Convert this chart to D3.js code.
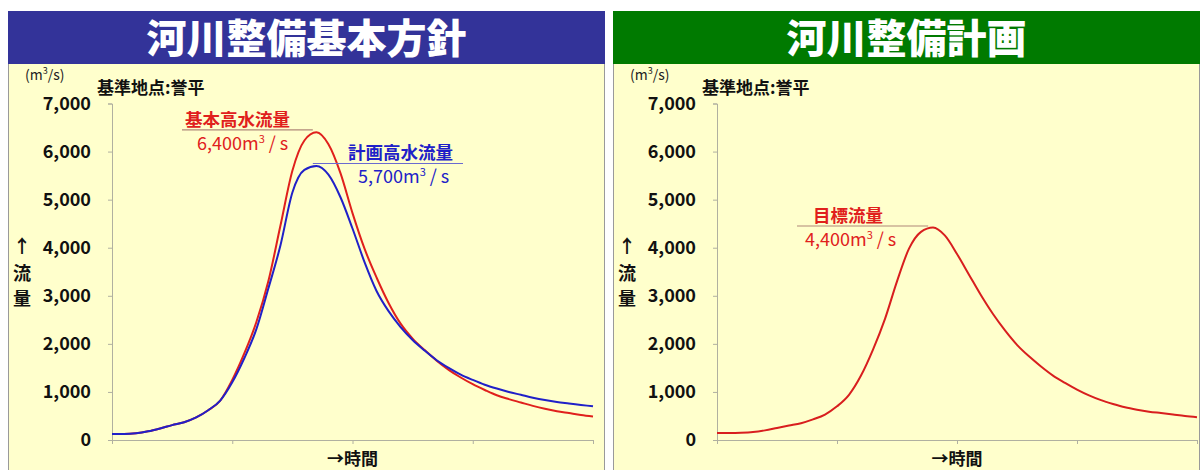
<!DOCTYPE html>
<html>
<head>
<meta charset="utf-8">
<script src="https://cdn.jsdelivr.net/npm/d3@7"></script>
<style>
  body { margin: 0; background: #fff; }
  svg text { font-family: "Noto Sans CJK JP", "Noto Sans", sans-serif; }
</style>
</head>
<body>
<svg id="svg0" width="1200" height="470"></svg>
<script>
// hydrograph values (m3/s) at 41 equal time steps
var steps = d3.range(0, 41);

var kihonFlow = [125, 125, 140, 180, 240, 310, 370, 470, 620, 820,
    1250, 1800, 2450, 3300, 4450, 5600, 6230, 6400, 6150, 5550,
    4720, 3980, 3380, 2850, 2420, 2110, 1870, 1650, 1460, 1300,
    1160, 1040, 930, 850, 780, 710, 650, 600, 560, 520, 490];

var keikakuFlow = [125, 125, 140, 180, 240, 310, 370, 470, 620, 820,
    1200, 1700, 2300, 3150, 4040, 5150, 5620, 5700, 5520, 5050,
    4400, 3700, 3100, 2680, 2350, 2080, 1860, 1660, 1500, 1360,
    1250, 1150, 1070, 1000, 940, 880, 830, 790, 760, 730, 700];

var mokuhyoFlow = [145, 145, 150, 165, 200, 250, 300, 350, 430, 530,
    700, 940, 1340, 1880, 2520, 3300, 3980, 4330, 4420, 4250,
    3870, 3440, 3010, 2620, 2280, 1980, 1740, 1530, 1340, 1190,
    1050, 930, 830, 750, 680, 630, 590, 560, 530, 500, 475];

var yTicks = [0, 1000, 2000, 3000, 4000, 5000, 6000, 7000];
var xTicks = [0, 10, 20, 30, 40];

var svg0 = d3.select('#svg0');

function drawPanel(opt) {
    var g = svg0.append('g')
        .attr('transform', 'translate(' + opt.left + ',0)');

    // panel background + header
    g.append('rect')
        .attr('x', 0.5).attr('y', 11.5)
        .attr('width', opt.width - 1).attr('height', 470)
        .attr('fill', '#ffffcc')
        .attr('stroke', '#9a9a9a');
    g.append('rect')
        .attr('x', 0).attr('y', 11)
        .attr('width', opt.width).attr('height', 53)
        .attr('fill', opt.headColor);
    g.append('text')
        .attr('x', opt.width / 2).attr('y', 53)
        .attr('text-anchor', 'middle')
        .attr('fill', '#fff')
        .attr('font-size', 40)
        .attr('font-weight', 900)
        .text(opt.title);

    var x = d3.scaleLinear().domain([0, 40]).range([104, opt.axisEnd]);
    var y = d3.scaleLinear().domain([0, 7000]).range([440, 103.5]);

    // axes
    var yAxis = g.append('g')
        .attr('transform', 'translate(104,0)')
        .call(d3.axisLeft(y).tickValues(yTicks).tickSize(4).tickFormat(d3.format(',')));
    yAxis.selectAll('text')
        .attr('x', -21)
        .attr('font-size', 18)
        .attr('font-weight', 700)
        .attr('fill', '#111')
        .attr('font-family', '"Liberation Sans", Arial, sans-serif');
    g.append('g')
        .attr('transform', 'translate(0,440)')
        .call(d3.axisBottom(x).tickValues(xTicks).tickSize(4).tickFormat(''));
    g.selectAll('.domain, .tick line').attr('stroke', '#b0b0a0');

    // axis titles
    var unit = g.append('text').attr('x', 17).attr('y', 80)
        .attr('font-size', 14).attr('fill', '#222');
    unit.append('tspan').text('(m');
    unit.append('tspan').attr('dy', -6).attr('font-size', 9).text('3');
    unit.append('tspan').attr('dy', 6).text('/s)');

    [['↑', 253], ['流', 280], ['量', 305]].forEach(function (d) {
        g.append('text').attr('x', 14).attr('y', d[1])
            .attr('text-anchor', 'middle')
            .attr('font-size', 18).attr('font-weight', 700).attr('fill', '#111')
            .text(d[0]);
    });
    g.append('text').attr('x', x(20)).attr('y', 465)
        .attr('text-anchor', 'middle')
        .attr('font-size', 17).attr('font-weight', 700).attr('fill', '#111')
        .text('→時間');
    g.append('text').attr('x', 89).attr('y', 94)
        .attr('font-size', 17).attr('font-weight', 700).attr('fill', '#111')
        .text('基準地点:誉平');

    var line = d3.line()
        .x(function (d, i) { return x(steps[i]); })
        .y(function (d) { return y(d); })
        .curve(d3.curveMonotoneX);

    opt.series.forEach(function (s) {
        g.append('path')
            .datum(s.values)
            .attr('d', line)
            .attr('fill', 'none')
            .attr('stroke', s.color)
            .attr('stroke-width', 2);
    });

    // peak labels
    opt.labels.forEach(function (l) {
        var ly = y(l.value) - 2.5;
        var px = x(l.peakAt);
        g.append('line')
            .attr('x1', l.side === 'left' ? l.x1 : px)
            .attr('x2', l.side === 'left' ? px : l.x2)
            .attr('y1', ly).attr('y2', ly)
            .attr('stroke', l.lineColor).attr('stroke-width', 1.2);
        g.append('text')
            .attr('x', l.tx).attr('y', ly - 4)
            .attr('font-size', 17.5).attr('font-weight', 700).attr('fill', l.color)
            .text(l.name);
        var t = g.append('text')
            .attr('x', l.vx).attr('y', ly + 20)
            .attr('font-size', 18).attr('fill', l.color)
            .attr('font-family', '"Liberation Sans", Arial, sans-serif');
        t.append('tspan').text(d3.format(',')(l.value) + 'm');
        t.append('tspan').attr('dy', -7).attr('font-size', 11).text('3');
        t.append('tspan').attr('dy', 7).text(' / s');
    });
}

drawPanel({
    left: 8, width: 597, axisEnd: 585,
    title: '河川整備基本方針', headColor: '#333399',
    series: [
        { values: kihonFlow, color: '#e0201c' },
        { values: keikakuFlow, color: '#2020c8' }
    ],
    labels: [
        { name: '基本高水流量', value: 6400, peakAt: 16.7, side: 'left', x1: 174,
          tx: 177, vx: 189, color: '#e0201c', lineColor: '#b08878' },
        { name: '計画高水流量', value: 5700, peakAt: 16.7, side: 'right', x2: 455,
          tx: 340, vx: 350, color: '#2020c8', lineColor: '#6a6ad0' }
    ]
});

drawPanel({
    left: 613, width: 587, axisEnd: 584,
    title: '河川整備計画', headColor: '#007a00',
    series: [
        { values: mokuhyoFlow, color: '#d81e1e' }
    ],
    labels: [
        { name: '目標流量', value: 4400, peakAt: 17.6, side: 'left', x1: 184,
          tx: 200, vx: 192, color: '#e0201c', lineColor: '#b08878' }
    ]
});
</script>
</body>
</html>
